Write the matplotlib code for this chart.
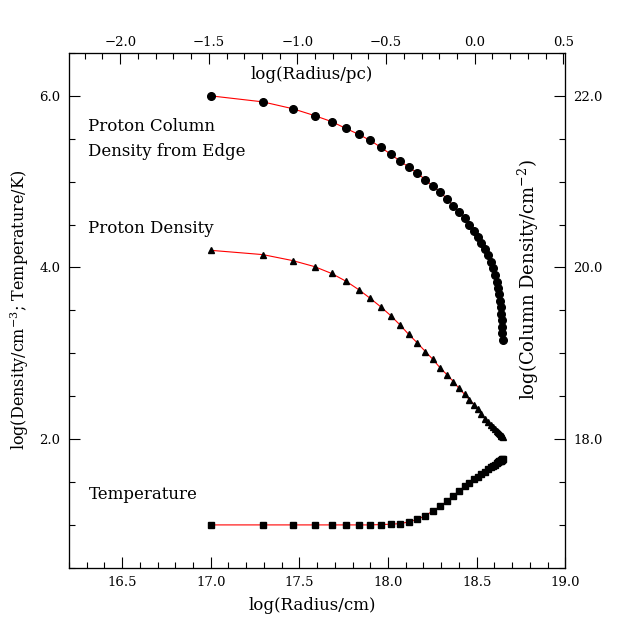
import numpy as np
import matplotlib
matplotlib.use('Agg')
import matplotlib.pyplot as plt
from matplotlib.ticker import MultipleLocator, FuncFormatter

plt.rcParams['font.family'] = 'DejaVu Serif'
plt.rcParams['mathtext.fontset'] = 'dejavuserif'

# log(radius/cm) of each zone
log_r = [17.000, 17.294, 17.463, 17.586, 17.682, 17.763, 17.836, 17.900, 17.960, 18.015,
         18.068, 18.117, 18.166, 18.211, 18.253, 18.294, 18.333, 18.369, 18.401, 18.433,
         18.459, 18.487, 18.508, 18.527, 18.546, 18.565, 18.580, 18.595, 18.605, 18.614,
         18.621, 18.627, 18.633, 18.637, 18.640, 18.642, 18.644, 18.645, 18.646]

# log(column density / cm^-2) from edge (right axis)
log_col = [22.00, 21.93, 21.85, 21.77, 21.70, 21.62, 21.55, 21.48, 21.40, 21.32,
           21.24, 21.17, 21.10, 21.02, 20.95, 20.88, 20.80, 20.72, 20.65, 20.58,
           20.50, 20.43, 20.36, 20.28, 20.21, 20.14, 20.06, 19.99, 19.91, 19.83,
           19.76, 19.69, 19.61, 19.54, 19.46, 19.39, 19.31, 19.24, 19.15]

# log(proton density / cm^-3)
log_dens = [4.20, 4.15, 4.08, 4.01, 3.93, 3.84, 3.74, 3.64, 3.54, 3.44,
            3.33, 3.22, 3.12, 3.02, 2.93, 2.83, 2.75, 2.67, 2.59, 2.52,
            2.46, 2.40, 2.35, 2.29, 2.24, 2.20, 2.17, 2.14, 2.12, 2.10,
            2.08, 2.07, 2.06, 2.05, 2.04, 2.04, 2.035, 2.033, 2.03]

# log(temperature / K)
log_temp = [1.00, 1.00, 1.00, 1.00, 1.00, 1.00, 1.00, 1.00, 1.004, 1.008,
            1.015, 1.035, 1.066, 1.108, 1.163, 1.217, 1.279, 1.341, 1.399, 1.45,
            1.49, 1.53, 1.56, 1.59, 1.62, 1.65, 1.67, 1.69, 1.70, 1.72,
            1.73, 1.74, 1.745, 1.75, 1.756, 1.759, 1.762, 1.764, 1.767]

log_pc = 18.4894  # log10(1 pc in cm)
xmin, xmax = 16.2, 19.0

fmt = FuncFormatter(lambda v, p: ('%.1f' % v).replace('-', '\u2212'))

fig = plt.figure(figsize=(6.38, 6.38), dpi=100)
ax = fig.add_axes([0.108, 0.110, 0.778, 0.807])

ax.plot(log_r, log_dens, color='red', lw=0.8, zorder=2)
ax.plot(log_r, log_dens, ls='none', marker='^', ms=5, color='black', zorder=3)
ax.plot(log_r, log_temp, color='red', lw=0.8, zorder=2)
ax.plot(log_r, log_temp, ls='none', marker='s', ms=4.2, color='black', zorder=3)
ax.set_xlim(xmin, xmax)
ax.set_ylim(0.5, 6.5)

ax2 = ax.twinx()
ax2.plot(log_r, log_col, color='red', lw=0.8, zorder=2)
ax2.plot(log_r, log_col, ls='none', marker='o', ms=5.5, color='black', zorder=3)
ax2.set_ylim(16.5, 22.5)

# top axis in parsecs
ax3 = ax.twiny()
ax3.set_xlim(xmin - log_pc, xmax - log_pc)

for a in (ax, ax3):
    a.xaxis.set_major_locator(MultipleLocator(0.5))
    a.xaxis.set_minor_locator(MultipleLocator(0.1))
    a.xaxis.set_major_formatter(fmt)
for a in (ax, ax2):
    a.yaxis.set_major_locator(MultipleLocator(2.0))
    a.yaxis.set_minor_locator(MultipleLocator(0.5))
    a.yaxis.set_major_formatter(fmt)

ax.tick_params(which='both', direction='in', top=False, right=False)
ax2.tick_params(which='both', direction='in', left=False, top=False, bottom=False)
ax3.tick_params(which='both', direction='in', bottom=False, left=False, right=False)
for a in (ax, ax2, ax3):
    a.tick_params(which='major', length=8, width=0.8, labelsize=9.5, pad=6)
    a.tick_params(which='minor', length=4, width=0.8)
ax3.tick_params(which='major', pad=2.5)

ax.set_xlabel('log(Radius/cm)', fontsize=12)
ax.xaxis.set_label_coords(0.49, -0.057)
ax.set_ylabel('log(Density/cm$^{-3}$; Temperature/K)', fontsize=11.5, labelpad=6)
ax.text(0.49, 0.958, 'log(Radius/pc)', transform=ax.transAxes, ha='center', va='center', fontsize=12)
ax.text(0.925, 0.56, 'log(Column Density/cm$^{-2}$)', transform=ax.transAxes,
        ha='center', va='center', rotation=90, fontsize=13)

ax.text(16.31, 5.64, 'Proton Column', fontsize=12, va='center')
ax.text(16.31, 5.35, 'Density from Edge', fontsize=12, va='center')
ax.text(16.31, 4.45, 'Proton Density', fontsize=12, va='center')
ax.text(16.31, 1.36, 'Temperature', fontsize=12, va='center')

fig.savefig('out.png', dpi=100)
